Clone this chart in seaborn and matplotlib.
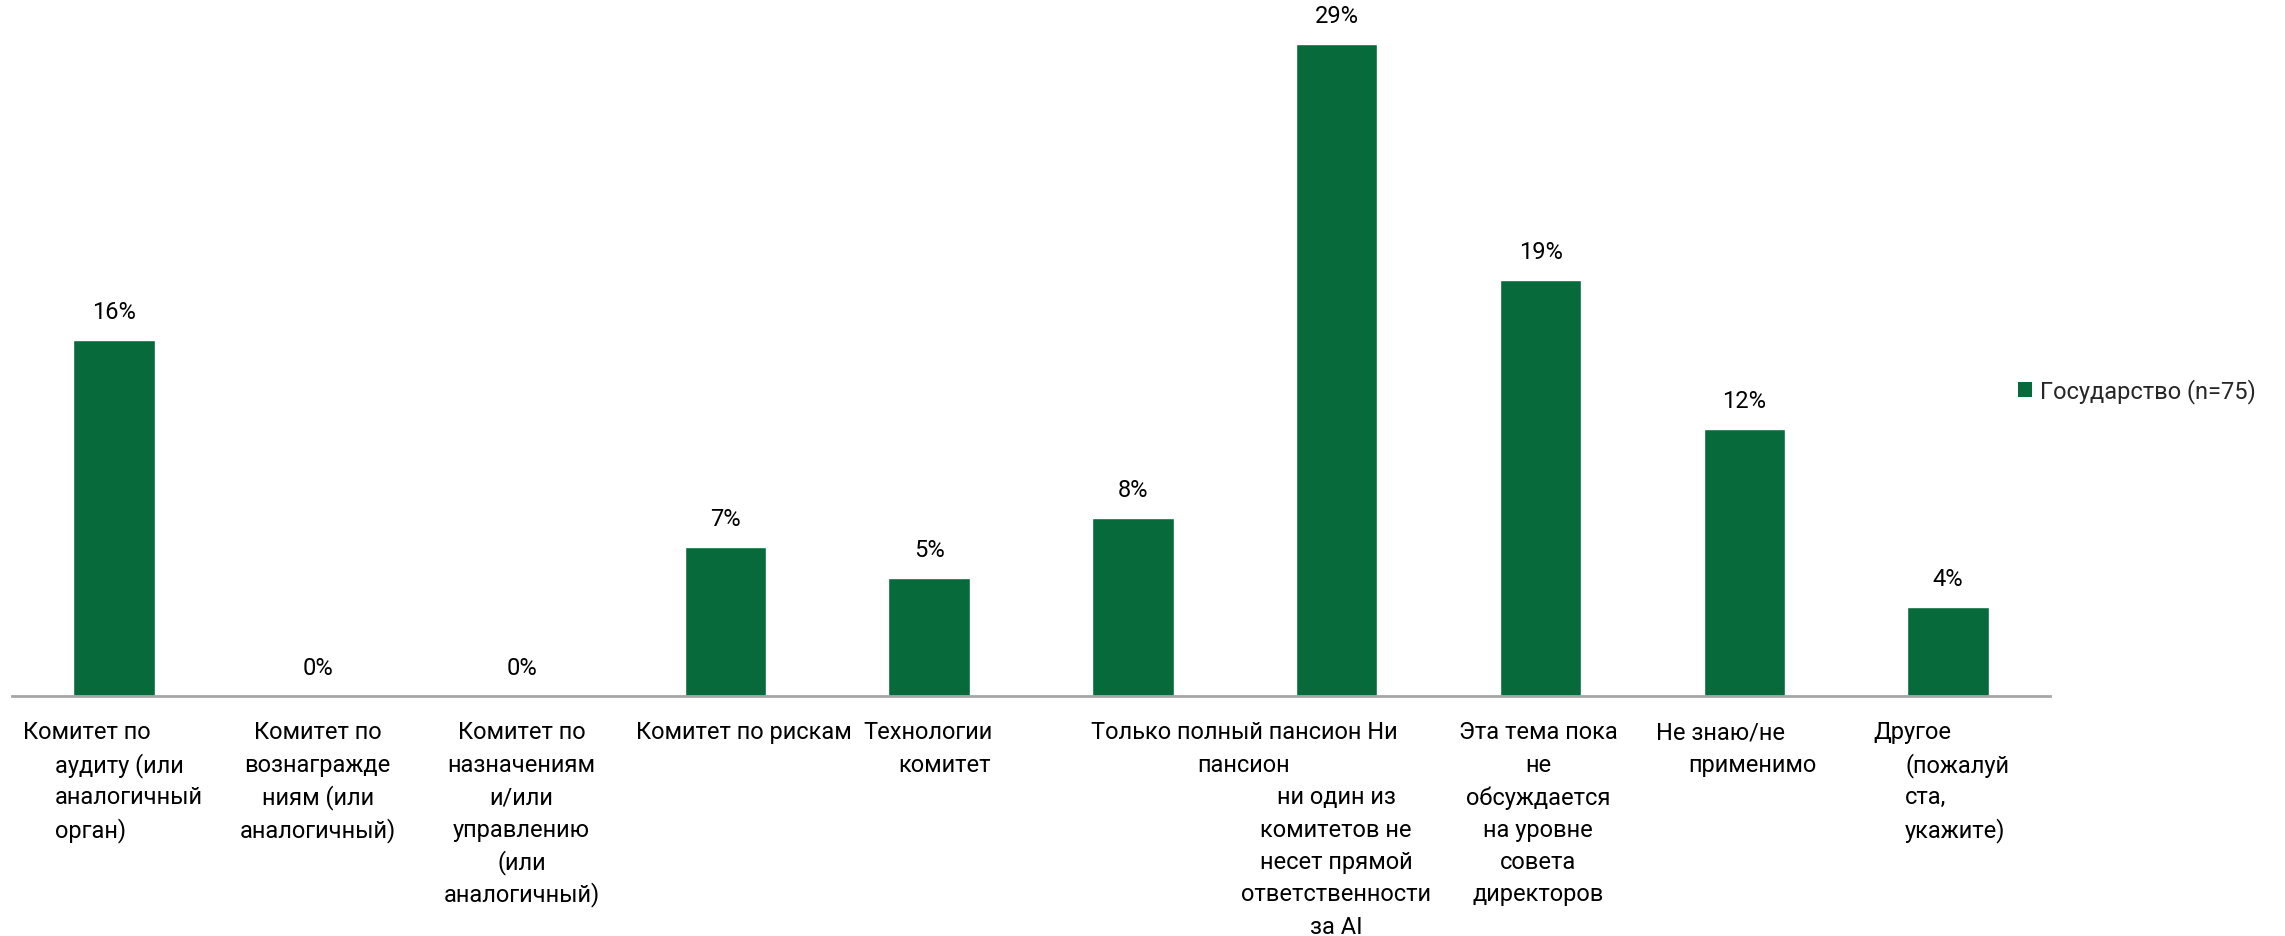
import matplotlib
matplotlib.use("Agg")
import matplotlib.pyplot as plt
import matplotlib.transforms as mtransforms
from matplotlib.patches import Patch
import seaborn as sns
import pandas as pd

# ---- data ----
categories = [
    "Комитет по аудиту (или аналогичный орган)",
    "Комитет по вознаграждениям (или аналогичный)",
    "Комитет по назначениям и/или управлению (или аналогичный)",
    "Комитет по рискам",
    "Технологии комитет",
    "Только полный пансион Ни пансион",
    "ни один из комитетов не несет прямой ответственности за AI",
    "Эта тема пока не обсуждается на уровне совета директоров",
    "Не знаю/не применимо",
    "Другое (пожалуйста, укажите)",
]
values = [16.0, 0.0, 0.0, 6.7, 5.3, 8.0, 29.3, 18.7, 12.0, 4.0]
series_name = "Государство (n=75)"

# wrapped tick-label lines as shown in the chart
label_lines = [
    ["Комитет по", "аудиту (или", "аналогичный", "орган)"],
    ["Комитет по", "вознагражде", "ниям (или", "аналогичный)"],
    ["Комитет по", "назначениям", "и/или", "управлению", "(или", "аналогичный)"],
    ["Комитет по рискам"],
    ["Технологии", "комитет"],
    ["Только полный пансион Ни", "пансион"],
    ["", "", "ни один из", "комитетов не", "несет прямой", "ответственности", "за AI"],
    ["Эта тема пока", "не", "обсуждается", "на уровне", "совета", "директоров"],
    ["Не знаю/не", "применимо"],
    ["Другое", "(пожалуй", "ста,", "укажите)"],
]

# ---- style / layout ----
BAR = "#076A3A"
AXIS = "#A6A6A6"
FONT = "Roboto"
FS = 17

sns.set_theme(style="white")
plt.rcParams["font.family"] = [FONT, "DejaVu Sans"]

W, H, DPI = 2285, 937, 100
fig = plt.figure(figsize=(W / DPI, H / DPI), dpi=DPI)
ax_left, ax_right, ax_bottom, ax_top = 12, 2050, 697, 7
ax = fig.add_axes([ax_left / W, (H - ax_bottom) / H,
                   (ax_right - ax_left) / W, (ax_bottom - ax_top) / H])

df = pd.DataFrame({"cat": categories, "val": values})
sns.barplot(data=df, x="cat", y="val", color=BAR, width=0.4, saturation=1,
            ax=ax, order=categories)

ax.set_xlim(-0.5, len(categories) - 0.5)
ax.set_ylim(0, 31)
for s in ["top", "right", "left"]:
    ax.spines[s].set_visible(False)
ax.spines["bottom"].set_color(AXIS)
ax.spines["bottom"].set_linewidth(2)
ax.set_yticks([])
ax.set_xlabel("")
ax.set_ylabel("")
ax.set_xticks([])
ax.set_xticks([i - 0.5 for i in range(len(categories) + 1)], minor=True)
ax.tick_params(axis="x", which="minor", length=6, width=1.5, color=AXIS,
               direction="out", labelbottom=False)

# value labels
ax.bar_label(ax.containers[0], labels=[f"{v:.0f}%" for v in values],
             padding=12, fontsize=FS, color="#000000")

# tick labels: (first-line x offset, other-lines x offset, align) per category
label_layout = [
    (-0.446, -0.289, "left"),
    (0.0, 0.0, "center"),
    (0.0, 0.0, "center"),
    (0.092, 0.092, "center"),
    (-0.324, -0.153, "left"),
    (0.545, 0.545, "center"),
    (-0.003, -0.003, "center"),
    (-0.012, -0.012, "center"),
    (-0.433, -0.276, "left"),
    (-0.368, -0.211, "left"),
]
trans = mtransforms.blended_transform_factory(ax.transData, ax.transAxes)
ax_h = ax_bottom - ax_top
first_line_px, line_step_px = 36, 32.4
for i, lines in enumerate(label_lines):
    off0, off1, ha = label_layout[i]
    for j, line in enumerate(lines):
        if not line:
            continue
        x = i + (off0 if j == 0 else off1)
        y = -(first_line_px + line_step_px * j) / ax_h
        ax.text(x, y, line, transform=trans, ha=ha, va="center",
                fontsize=FS, color="#000000", clip_on=False)

# legend
handle = Patch(facecolor=BAR, edgecolor="none", label=series_name)
fig.legend(handles=[handle], loc="center left",
           bbox_to_anchor=(2018 / W, (H - 392) / H), frameon=False,
           fontsize=FS, handlelength=0.6, handleheight=0.6,
           handletextpad=0.35, borderpad=0, borderaxespad=0)

fig.savefig("out.png", dpi=DPI)
